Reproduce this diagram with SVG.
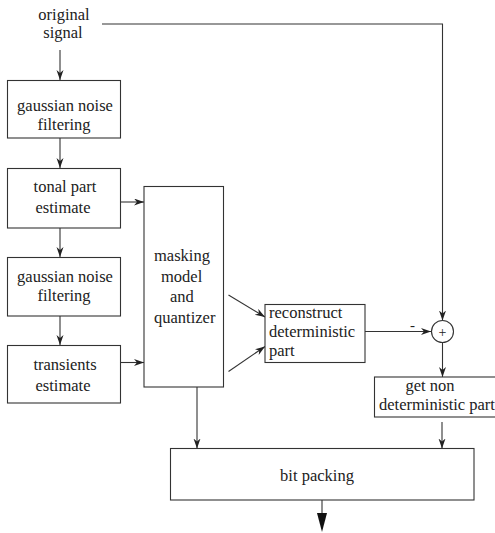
<svg xmlns="http://www.w3.org/2000/svg" width="495" height="533" viewBox="0 0 495 533">
<style>
text{font-family:"Liberation Serif","Times New Roman",serif;font-size:16.5px;fill:#222}
.box{fill:#fff;stroke:#333;stroke-width:1.1}
.c{text-anchor:middle}
.ln{fill:none;stroke:#333;stroke-width:1.1}
</style>
<defs>
<marker id="ah" markerWidth="10" markerHeight="8" refX="10" refY="3.5" orient="auto" markerUnits="userSpaceOnUse">
<path d="M0,0 L10,3.5 L0,7 L3,3.5 z" fill="#222"/>
</marker>
<marker id="big" markerWidth="20" markerHeight="10" refX="0" refY="5" orient="auto" markerUnits="userSpaceOnUse">
<path d="M0,0 L19,5 L0,10 z" fill="#111"/>
</marker>
</defs>
<g id="connectors">
<path class="ln" d="M60,50 V80" marker-end="url(#ah)"/>
<path class="ln" d="M60,138 V168" marker-end="url(#ah)"/>
<path class="ln" d="M60,228 V257" marker-end="url(#ah)"/>
<path class="ln" d="M60,316 V345" marker-end="url(#ah)"/>
<path class="ln" d="M121,202 H144" marker-end="url(#ah)"/>
<path class="ln" d="M121,362.5 H144" marker-end="url(#ah)"/>
<path class="ln" d="M228.5,295 L265,317" marker-end="url(#ah)"/>
<path class="ln" d="M228.5,371.5 L265,346.5" marker-end="url(#ah)"/>
<path class="ln" d="M102,24 H442.5 V320.5" marker-end="url(#ah)"/>
<path class="ln" d="M365,331.5 H431" marker-end="url(#ah)"/>
<path class="ln" d="M442.5,343 V377" marker-end="url(#ah)"/>
<path class="ln" d="M442,422 V448.5" marker-end="url(#ah)"/>
<path class="ln" d="M197,387 V448.5" marker-end="url(#ah)"/>
<path class="ln" d="M322,500 V513" marker-end="url(#big)"/>
</g>
<g id="original-signal">
<text class="c" x="64" y="20">original</text>
<text class="c" x="63" y="38">signal</text>
</g>
<g id="gaussian1">
<rect class="box" x="7.5" y="80.5" width="113" height="57.5"/>
<text class="c" x="65" y="111">gaussian noise</text>
<text class="c" x="64" y="130">filtering</text>
</g>
<g id="tonal">
<rect class="box" x="7.5" y="168.5" width="113" height="59.5"/>
<text class="c" x="65" y="192">tonal part</text>
<text class="c" x="63" y="212.5">estimate</text>
</g>
<g id="gaussian2">
<rect class="box" x="7.5" y="257.5" width="113" height="58.5"/>
<text class="c" x="65" y="281.5">gaussian noise</text>
<text class="c" x="64" y="301">filtering</text>
</g>
<g id="transients">
<rect class="box" x="7.5" y="345.5" width="113" height="57.5"/>
<text class="c" x="65" y="370">transients</text>
<text class="c" x="63" y="390.5">estimate</text>
</g>
<g id="masking">
<rect class="box" x="144" y="186.5" width="79.5" height="200.5"/>
<text x="154" y="261">masking</text>
<text x="161" y="281.5">model</text>
<text x="170" y="302">and</text>
<text x="154" y="322.5">quantizer</text>
</g>
<g id="reconstruct">
<rect class="box" x="265" y="304.5" width="100" height="58"/>
<text x="269" y="318">reconstruct</text>
<text x="269" y="337">deterministic</text>
<text x="269" y="355.5">part</text>
</g>
<g id="sum">
<circle cx="442.5" cy="331.5" r="11" fill="#fff" stroke="#333" stroke-width="1.1"/>
<text class="c" x="442.5" y="336.5" style="font-size:14px">+</text>
<text x="410" y="330" style="font-size:15px">-</text>
</g>
<g id="get-non">
<rect class="box" x="374.5" y="377" width="125" height="40"/>
<text x="405.5" y="391">get non</text>
<text x="379" y="410">deterministic part</text>
</g>
<g id="bit-packing">
<rect class="box" x="170.5" y="448.5" width="303.5" height="51.5"/>
<text class="c" x="317" y="480.5">bit packing</text>
</g>
</svg>
